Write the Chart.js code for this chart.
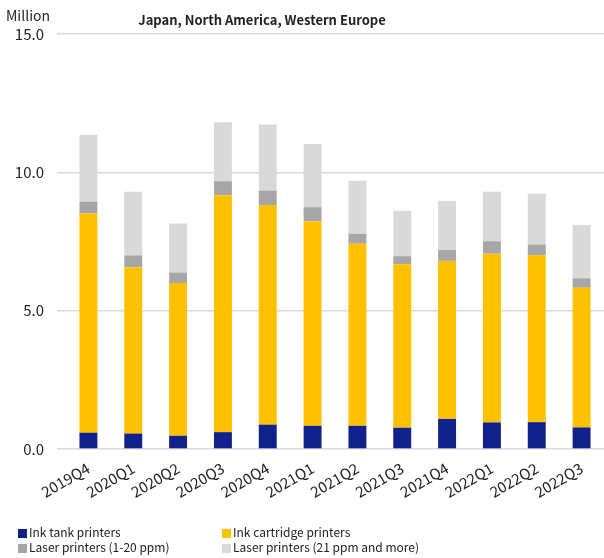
<!DOCTYPE html>
<html>
<head>
<meta charset="utf-8">
<script src="https://cdn.jsdelivr.net/npm/chart.js@4"></script>
<style>
  html, body { margin: 0; padding: 0; background: #fff; }
  #wrap { position: relative; width: 604px; height: 558px; }
  #legend {
    position: absolute; left: 18px; top: 524px; width: 580px;
    display: grid; grid-template-columns: 204px 300px; row-gap: 0;
    font-family: "Noto Sans CJK JP", "Noto Sans", sans-serif; font-size: 12px; color: #222;
    line-height: 15px;
  }
  #legend span.box { display: inline-block; width: 9px; height: 9px; margin-right: 2px; vertical-align: -1px; }
</style>
</head>
<body>
<div id="wrap">
  <canvas id="chart" width="604" height="558"></canvas>
  <div id="legend"></div>
</div>
<script>
// Data (million units)
const quarters = ["2019Q4", "2020Q1", "2020Q2", "2020Q3", "2020Q4", "2021Q1",
                  "2021Q2", "2021Q3", "2021Q4", "2022Q1", "2022Q2", "2022Q3"];
const inkTank = [0.59, 0.56, 0.48, 0.61, 0.88, 0.84, 0.84, 0.77, 1.09, 0.96, 0.97, 0.78];
const inkCartridge = [7.92, 6.01, 5.52, 8.56, 7.94, 7.39, 6.58, 5.91, 5.71, 6.10, 6.03, 5.05];
const laserSmall = [0.43, 0.43, 0.38, 0.51, 0.52, 0.51, 0.36, 0.29, 0.39, 0.45, 0.39, 0.34];
const laserLarge = [2.42, 2.30, 1.77, 2.13, 2.39, 2.28, 1.92, 1.64, 1.78, 1.79, 1.84, 1.93];
const yTicks = [0, 5, 10, 15];

const FONT = "'Noto Sans CJK JP', 'Noto Sans', sans-serif";

// "Million" unit label and the title
const headerPlugin = {
  id: "header",
  afterDraw(chart) {
    const ctx = chart.ctx;
    ctx.save();
    ctx.fillStyle = "#222";
    ctx.textBaseline = "middle";
    ctx.font = "14px " + FONT;
    ctx.textAlign = "left";
    ctx.fillText("Million", 6, 16);
    ctx.font = "bold 13px " + FONT;
    ctx.textAlign = "center";
    ctx.fillText("Japan, North America, Western Europe", 262, 20);
    ctx.restore();
  }
};

const chart = new Chart(document.getElementById("chart"), {
  type: "bar",
  data: {
    labels: quarters,
    datasets: [
      { label: "Ink tank printers", data: inkTank, backgroundColor: "#10218b" },
      { label: "Ink cartridge printers", data: inkCartridge, backgroundColor: "#ffc000" },
      { label: "Laser printers (1-20 ppm)", data: laserSmall, backgroundColor: "#a6a6a6" },
      { label: "Laser printers (21 ppm and more)", data: laserLarge, backgroundColor: "#d9d9d9" }
    ]
  },
  options: {
    responsive: false,
    animation: false,
    layout: { padding: { top: 34, right: 0, bottom: 55, left: 0 } },
    datasets: { bar: { categoryPercentage: 0.8, barPercentage: 0.5 } },
    plugins: {
      legend: { display: false },
      tooltip: { enabled: false }
    },
    scales: {
      x: {
        stacked: true,
        grid: { display: false },
        border: { display: false },
        ticks: {
          color: "#222",
          font: { family: FONT, size: 15 },
          minRotation: 30, maxRotation: 30,
          padding: 2
        }
      },
      y: {
        stacked: true,
        min: 0, max: 15,
        afterFit(scale) { scale.width = 66; },
        afterBuildTicks(scale) { scale.ticks = yTicks.map(v => ({ value: v })); },
        grid: { color: "#d9d9d9", lineWidth: 1.5, drawTicks: true, tickLength: 9 },
        border: { display: false },
        ticks: {
          color: "#222",
          font: { family: FONT, size: 15 },
          padding: 13,
          callback: v => v.toFixed(1)
        }
      }
    }
  },
  plugins: [headerPlugin]
});

// Legend in two columns, built from the chart's datasets
const legend = document.getElementById("legend");
chart.data.datasets.forEach(ds => {
  const item = document.createElement("div");
  item.innerHTML = '<span class="box" style="background:' + ds.backgroundColor + '"></span>' + ds.label;
  legend.appendChild(item);
});
</script>
</body>
</html>
